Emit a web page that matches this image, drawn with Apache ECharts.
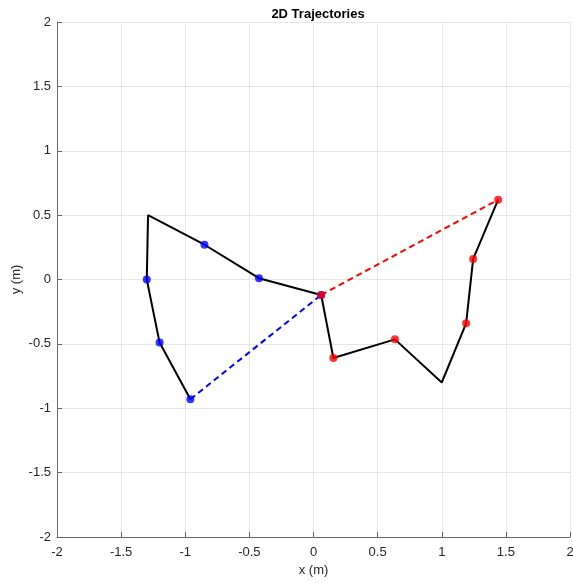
<!DOCTYPE html>
<html>
<head>
<meta charset="utf-8">
<script src="https://cdn.jsdelivr.net/npm/echarts@6/dist/echarts.min.js"></script>
<style>
  html, body { margin: 0; padding: 0; background: #fff; }
  #chart { width: 573px; height: 583px; }
</style>
</head>
<body>
<div id="chart"></div>
<script>
// solid black path through all waypoints
const pathX = [-0.96, -1.20, -1.30, -1.29, -0.85, -0.425, 0.06, 0.155, 0.635, 1.00, 1.19, 1.245, 1.44]
const pathY = [-0.93, -0.49, 0.00, 0.50, 0.27, 0.01, -0.12, -0.61, -0.465, -0.80, -0.34, 0.16, 0.62]
// dashed links
const blueDashX = [-0.96, 0.06]
const blueDashY = [-0.93, -0.12]
const redDashX = [0.06, 1.44]
const redDashY = [-0.12, 0.62]
// markers
const blueX = [-0.96, -1.20, -1.30, -0.85, -0.425, 0.06]
const blueY = [-0.93, -0.49, 0.00, 0.27, 0.01, -0.12]
const redX = [0.06, 0.155, 0.635, 1.19, 1.245, 1.44]
const redY = [-0.12, -0.61, -0.465, -0.34, 0.16, 0.62]

const zip = (xs, ys) => xs.map((x, i) => [x, ys[i]])

let chart = echarts.init(document.getElementById('chart'))

const axisCommon = {
  type: 'value',
  min: -2,
  max: 2,
  interval: 0.5,
  nameLocation: 'middle',
  nameMoveOverlap: false,
  nameTextStyle: { color: '#262626', fontSize: 13, fontFamily: 'Liberation Sans' },
  axisLine: { show: true, onZero: false, lineStyle: { color: '#666', width: 1 } },
  axisTick: { show: true, inside: true, length: 5, lineStyle: { color: '#666' } },
  axisLabel: { color: '#262626', fontSize: 13, fontFamily: 'Liberation Sans' },
  splitLine: { show: true, lineStyle: { color: '#e6e6e6', width: 1 } }
}

let option = {
  animation: false,
  title: {
    text: '2D Trajectories',
    left: 313,
    textAlign: 'center',
    top: 3,
    textStyle: { fontSize: 13, fontWeight: 'bold', color: '#000', fontFamily: 'Liberation Sans' }
  },
  grid: { left: 57, right: 3, top: 22, bottom: 46, containLabel: false, outerBoundsMode: 'none' },
  xAxis: Object.assign({}, axisCommon, {
    name: 'x (m)',
    nameGap: 27,
    axisLabel: Object.assign({}, axisCommon.axisLabel, { margin: 9 })
  }),
  yAxis: Object.assign({}, axisCommon, {
    name: 'y (m)',
    nameGap: 34,
    axisLabel: Object.assign({}, axisCommon.axisLabel, { margin: 6 })
  }),
  series: [
    {
      type: 'line',
      data: zip(pathX, pathY),
      symbol: 'none',
      lineStyle: { color: '#000', width: 2 },
      z: 2
    },
    {
      type: 'line',
      data: zip(blueDashX, blueDashY),
      symbol: 'none',
      lineStyle: { color: '#0000ff', width: 2, type: [6, 4] },
      z: 2
    },
    {
      type: 'line',
      data: zip(redDashX, redDashY),
      symbol: 'none',
      lineStyle: { color: '#ff0000', width: 2, type: [6, 4] },
      z: 2
    },
    {
      type: 'scatter',
      data: zip(blueX, blueY),
      symbol: 'circle',
      symbolSize: 8,
      itemStyle: { color: '#0000ff' },
      z: 3
    },
    {
      type: 'scatter',
      data: zip(redX, redY),
      symbol: 'circle',
      symbolSize: 8,
      itemStyle: { color: '#ff0000' },
      z: 4
    }
  ]
}
chart.setOption(option, true)
</script>
</body>
</html>
